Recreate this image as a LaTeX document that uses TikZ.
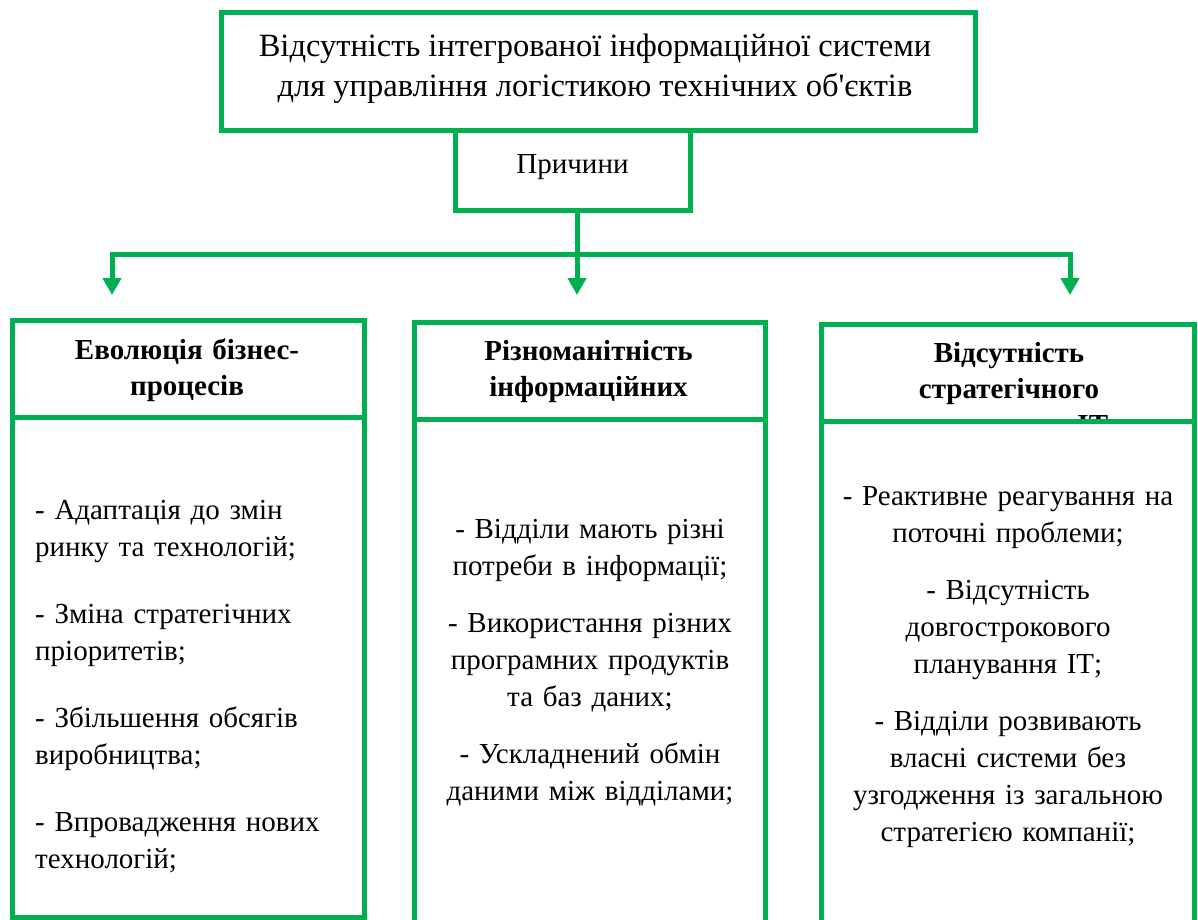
\documentclass[tikz,border=0pt]{standalone}
\usepackage{fontspec}
\setmainfont{Liberation Serif}
\usetikzlibrary{arrows.meta}
\definecolor{boxgreen}{HTML}{00B050}
\tikzset{
  frame/.style={draw=boxgreen,line width=5pt,inner sep=0pt},
  link/.style={draw=boxgreen,line width=5pt},
  tip/.style={link,-{Triangle[width=18pt,length=17pt]}},
  title/.style={font=\fontsize{29}{37}\selectfont,align=center,inner sep=0pt},
  head/.style={font=\bfseries\fontsize{29}{36}\selectfont,align=center,inner sep=0pt,anchor=north},
  item/.style={font=\fontsize{29}{37}\selectfont,inner sep=0pt,anchor=north}
}
\begin{document}
\begin{tikzpicture}[x=1pt,y=-1pt]
\useasboundingbox (0,0) rectangle (1198,919);
% problem and causes
\node[frame,minimum width=754pt,minimum height=118pt] (problem) at (598,71) {};
\node[title,anchor=north,font=\fontsize{32.5}{40}\selectfont] (problemT) at (595,34) {Відсутність інтегрованої інформаційної системи\\для управління логістикою технічних об\textquotesingle єктів};
\node[frame,title,minimum width=235pt,minimum height=80pt,text height=20pt,text depth=14pt] (cause) at (572.5,170) {Причини};
% connectors
\coordinate (fork) at (577,254);
\coordinate (tipL) at (112,295);
\coordinate (tipM) at (577,295);
\coordinate (tipR) at (1070,295);
\draw[link] (cause.south -| fork) -- (fork);
\draw[tip] (fork) -| (tipL);
\draw[tip] (fork) -| (tipR);
\draw[tip] (fork) -- (tipM);
% column headers (third lines hidden by the bodies)
\node[head,text width=340pt] (evolT) at (187,338.5) {Еволюція бізнес-\\процесів};
\node[head,text width=340pt] (diverT) at (588.5,340) {Різноманітність\\інформаційних\\систем};
\node[head,text width=360pt] (stratT) at (1009,342) {Відсутність\\стратегічного\\планування ІТ};
% column bodies
\node[frame,fill=white,minimum width=352pt,minimum height=500pt] (evolBody) at (188,667) {};
\node[frame,fill=white,minimum width=351pt,minimum height=540.5pt] (diverBody) at (589.5,689.75) {};
\node[frame,fill=white,minimum width=373pt,minimum height=539pt] (stratBody) at (1007.5,690.5) {};
\node[frame,minimum width=352pt,minimum height=97pt] (evolHead) at (188,368.5) {};
\node[frame,minimum width=351pt,minimum height=97.5pt] (diverHead) at (589.5,370.75) {};
\node[frame,minimum width=373pt,minimum height=97pt] (stratHead) at (1007.5,372.5) {};
% lists
\node[item,text width=320pt,align=left,anchor=north west] (evolList) at (35,500.5) {- Адаптація до змін\\ринку та технологій;\\[30pt]- Зміна стратегічних\\пріоритетів;\\[30pt]- Збільшення обсягів\\виробництва;\\[30pt]- Впровадження нових\\технологій;};
\node[item,text width=340pt,align=center] (diverList) at (590,519.5) {- Відділи мають різні\\потреби в інформації;\\[20pt]- Використання різних\\програмних продуктів\\та баз даних;\\[20pt]- Ускладнений обмін\\даними між відділами;};
\node[item,text width=360pt,align=center] (stratList) at (1008,486) {- Реактивне реагування на\\поточні проблеми;\\[20pt]- Відсутність\\довгострокового\\планування ІТ;\\[20pt]- Відділи розвивають\\власні системи без\\узгодження із загальною\\стратегією компанії;};
\end{tikzpicture}
\end{document}
